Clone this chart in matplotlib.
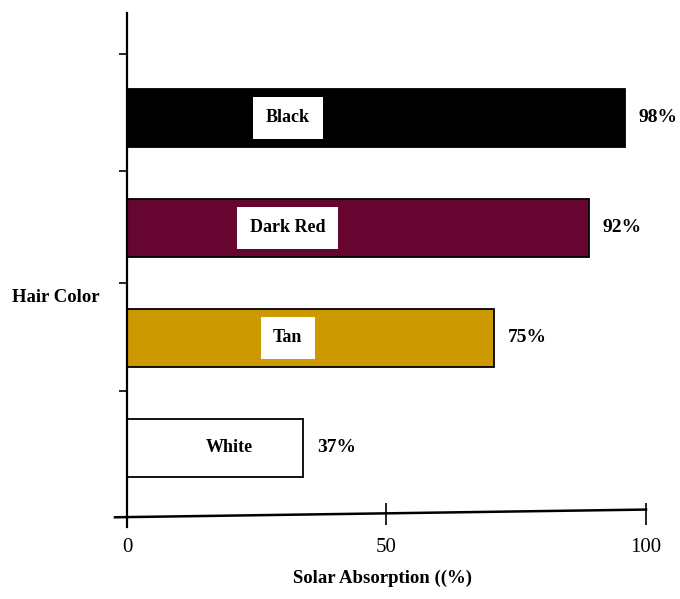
import matplotlib
matplotlib.use('Agg')
import matplotlib.pyplot as plt
import numpy as np

# data (bottom to top)
hair_colors = ['White', 'Tan', 'Dark Red', 'Black']
bar_lengths = [34, 70.7, 89, 96]          # drawn bar lengths
pct_labels = ['37%', '75%', '92%', '98%']  # printed values next to bars
bar_colors = ['#ffffff', '#cc9900', '#650530', '#000000']

plt.rcParams['font.family'] = ['Liberation Serif', 'DejaVu Serif']

fig = plt.figure(figsize=(6.8, 5.99), dpi=100)
ax = fig.add_axes([0.1638, 0.1144, 0.8244, 0.8723])

pos = np.arange(len(hair_colors))
ax.barh(pos, bar_lengths, height=0.52, color=bar_colors,
        edgecolor='black', linewidth=1.3, zorder=2)

for p, name, w, lab in zip(pos, hair_colors, bar_lengths, pct_labels):
    ax.text(min(31, w * 0.58), p, name, ha='center', va='center',
            fontsize=13, fontweight='bold', zorder=3,
            bbox=dict(boxstyle='square,pad=0.7', fc='white', ec='none'))
    ax.text(w + 2.6, p, lab, ha='left', va='center', fontsize=14,
            fontweight='bold', clip_on=False)

ax.set_xlim(-3, 105)
ax.set_ylim(-0.75, 4.0)

# axes styling
for s in ['top', 'right']:
    ax.spines[s].set_visible(False)
ax.spines['left'].set_position(('data', 0))
ax.spines['left'].set_bounds(-0.72, 3.95)
ax.spines['left'].set_linewidth(1.6)
ax.spines['bottom'].set_position(('data', -0.6))
ax.spines['bottom'].set_visible(False)
# slightly tilted x axis line as in the original
ax.plot([-2.3, 100], [-0.63, -0.56], color='black', lw=1.8, clip_on=False, zorder=4)

ax.set_yticks([0.52, 1.5, 2.52, 3.58])
ax.set_yticklabels([])
ax.tick_params(axis='y', direction='out', length=6, width=1.2)

ax.set_xticks([0, 50, 100])
ax.set_xticklabels(['0', '50', '100'], fontsize=15)
ax.tick_params(axis='x', direction='inout', length=16, width=1.2, pad=9)

ax.set_ylabel('Hair Color', rotation=0, fontsize=13.5, fontweight='bold',
              ha='center', va='center')
ax.yaxis.set_label_coords(-0.099, 0.445)
ax.set_xlabel('Solar Absorption ((%)', fontsize=13.5, fontweight='bold',
              ha='center', va='center')
ax.xaxis.set_label_coords(0.4845, -0.091)

fig.savefig('out.png', dpi=100)
